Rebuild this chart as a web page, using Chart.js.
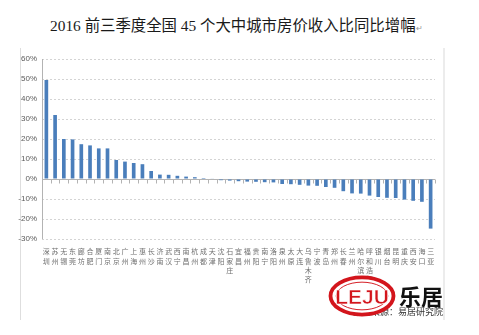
<!DOCTYPE html>
<html>
<head>
<meta charset="utf-8">
<script src="https://cdn.jsdelivr.net/npm/chart.js@4.4.1/dist/chart.umd.min.js"></script>
<style>
  html, body { margin: 0; padding: 0; background: #fff; }
  #wrap { position: relative; width: 479px; height: 335px; overflow: hidden; }
  #frame { position: absolute; left: 20px; top: 48px; width: 422px; height: 272px;
           border-left: 1px solid #dedede; border-right: 2px solid #ececec; }
  #title { position: absolute; left: 50px; top: 13px; white-space: nowrap;
           font-family: "Liberation Serif", "Noto Sans CJK SC", serif; font-size: 15.4px; color: #1a1a1a; }
  #title .mark { font-size: 8px; color: #999; }
  #chart { position: absolute; left: 0; top: 0; }
  #source { position: absolute; left: 353px; top: 305px; font-family: "Noto Sans CJK SC", sans-serif;
            font-size: 9px; color: #333; white-space: nowrap; }
  #logo { position: absolute; left: 327px; top: 275px; }
  #brand { position: absolute; left: 399px; top: 279px; font-family: "Noto Sans CJK SC", sans-serif;
           font-size: 22px; font-weight: 700; color: #111; white-space: nowrap; }
</style>
</head>
<body>
<div id="wrap">
  <div id="frame"></div>
  <div id="title">2016 前三季度全国 45 个大中城市房价收入比同比增幅<span class="mark">↵</span></div>
  <canvas id="chart" width="479" height="335"></canvas>
  <div id="source">数据来源：易居研究院</div>
  <svg id="logo" width="70" height="42" viewBox="0 0 72 44">
    <ellipse cx="36" cy="22" rx="33" ry="19.5" fill="#fff" stroke="#d3151c" stroke-width="4"/>
    <ellipse cx="36" cy="22" rx="27" ry="14.5" fill="none" stroke="#d3151c" stroke-width="1"/>
    <text x="36" y="30" text-anchor="middle" font-family="Liberation Sans Narrow, Liberation Sans, sans-serif"
          font-size="22" font-weight="700" fill="#d3151c" stroke="#fff" stroke-width="0.6">LEJU</text>
  </svg>
  <div id="brand">乐居</div>
</div>
<script>
// 45 个城市及房价收入比同比增幅（%）
const cities = ['深圳', '苏州', '无锡', '东莞', '廊坊', '合肥', '厦门', '南京', '北京', '广州',
    '上海', '惠州', '长沙', '济南', '武汉', '西宁', '南昌', '杭州', '成都', '天津',
    '沈阳', '石家庄', '宜昌', '福州', '贵阳', '南宁', '洛阳', '泉州', '太原', '大连',
    '乌鲁木齐', '宁波', '青岛', '郑州', '长春', '兰州', '哈尔滨', '呼和浩特', '银川', '烟台',
    '昆明', '重庆', '西安', '海口', '三亚'];
const growth = [49.5, 32, 20, 19.8, 17.4, 16.8, 15.3, 15.3, 9.5, 8.7,
    8, 7.4, 4, 2.2, 2.1, 1.6, 1.2, 0.9, 0.5, 0.2,
    -0.6, -0.8, -1.1, -1.3, -1.4, -1.6, -1.7, -2.5, -2.6, -2.9,
    -3.3, -3.4, -4, -4.4, -6.1, -7.2, -7.3, -8.3, -9, -9.4,
    -9.5, -10.3, -10.9, -11.4, -24.8];
const yMin = -30, yMax = 60, yStep = 10;

// 零值线、Y 轴线以及零值线下方的刻度
const axisLines = {
    id: 'axisLines',
    beforeDatasetsDraw(chart) {
        const { ctx, chartArea, scales } = chart;
        const y0 = Math.round(scales.y.getPixelForValue(0)) + 0.5;
        const step = (chartArea.right - chartArea.left) / cities.length;
        ctx.save();
        ctx.strokeStyle = '#b3b3b3';
        ctx.lineWidth = 1;
        ctx.beginPath();
        ctx.moveTo(chartArea.left, y0);
        ctx.lineTo(chartArea.right, y0);
        for (let i = 0; i <= cities.length; i++) {
            const x = Math.round(chartArea.left + i * step) + 0.5;
            ctx.moveTo(x, y0);
            ctx.lineTo(x, y0 + 4);
        }
        const xl = Math.round(chartArea.left) + 0.5;
        ctx.moveTo(xl, chartArea.top);
        ctx.lineTo(xl, chartArea.bottom);
        ctx.stroke();
        ctx.restore();
    }
};

new Chart(document.getElementById('chart'), {
    type: 'bar',
    data: {
        labels: cities.map(c => c.split('')),
        datasets: [{
            data: growth,
            backgroundColor: '#4a7ebb',
            categoryPercentage: 1,
            barPercentage: 0.42
        }]
    },
    options: {
        responsive: false,
        animation: false,
        layout: { padding: { left: 0, top: 59, right: 44, bottom: 0 } },
        plugins: { legend: { display: false }, tooltip: { enabled: false } },
        scales: {
            x: {
                grid: { display: false },
                border: { display: false },
                ticks: {
                    autoSkip: false, maxRotation: 0, minRotation: 0, padding: 0,
                    color: '#707070',
                    font: { family: "'Noto Sans CJK SC', sans-serif", size: 7, lineHeight: 1.33 }
                },
                afterFit: scale => { scale.height = 96; }
            },
            y: {
                min: yMin, max: yMax,
                grid: {
                    drawTicks: false,
                    color: ctx => ctx.tick && ctx.tick.value === 0 ? 'rgba(0,0,0,0)' : '#d4d4d4'
                },
                border: { display: false, dash: [2, 2] },
                ticks: {
                    stepSize: yStep, padding: 5, color: '#5a5a5a',
                    font: { family: "'Liberation Sans', sans-serif", size: 8 },
                    callback: v => v + '%'
                },
                afterFit: scale => { scale.width = 42; }
            }
        }
    },
    plugins: [axisLines]
});
</script>
</body>
</html>
